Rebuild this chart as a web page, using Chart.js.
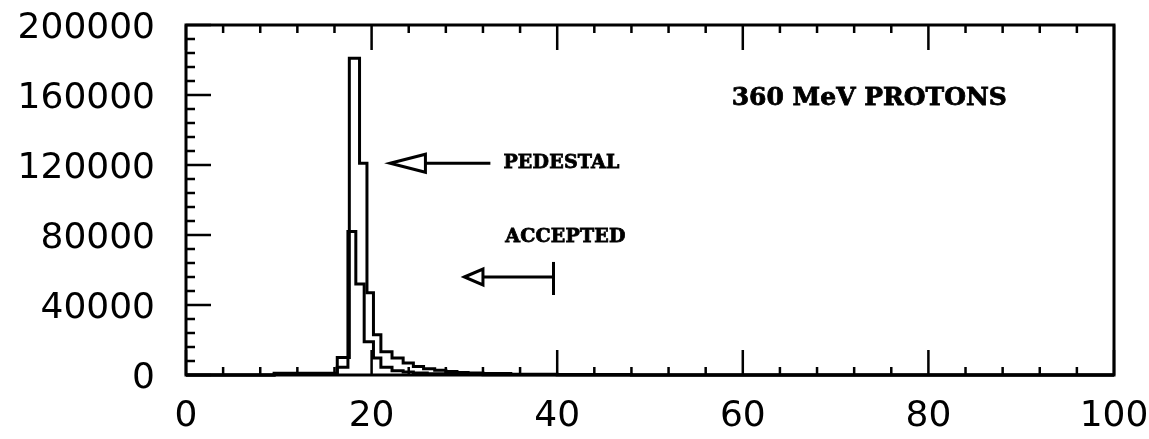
<!DOCTYPE html>
<html>
<head>
<meta charset="utf-8">
<script src="https://cdn.jsdelivr.net/npm/chart.js@4.4.1/dist/chart.umd.min.js"></script>
<style>
  html, body { margin: 0; padding: 0; background: #fff; }
  #wrap { width: 1149px; height: 439px; position: relative; }
</style>
</head>
<body>
<div id="wrap"><canvas id="spectrum"></canvas></div>
<script>
// channel edges and counts, all events
const allEdges  = [9.5, 16.3, 17.6, 18.7, 19.5, 20.2, 21.0, 22.2, 23.4, 24.5, 25.6, 26.8, 28.0, 29.2, 30.4, 32.0, 35.0, 40.0, 48.0];
const allCounts = [1000, 10000, 181000, 121000, 47000, 23000, 13300, 9700, 6800, 4800, 3600, 2700, 2000, 1500, 1100, 800, 500, 300];

// channel edges and counts, selected events
const selEdges  = [9.5, 16.3, 17.45, 18.3, 19.2, 20.2, 21.0, 22.2, 23.4, 24.5, 26.0, 28.0, 32.0, 40.0];
const selCounts = [500, 4500, 82000, 52000, 19000, 9700, 4500, 2500, 1700, 1100, 700, 400, 200];

const xTickLabels = [0, 20, 40, 60, 80, 100];
const yTickLabels = [0, 40000, 80000, 120000, 160000, 200000];

// count i covers edges[i]..edges[i+1] (stepped: 'before')
function histPoints(edges, counts) {
    const pts = [{x: 0, y: 0}];
    for (let i = 0; i < counts.length; i++) {
        pts.push({x: edges[i], y: counts[i]});
    }
    pts.push({x: edges[edges.length - 1], y: 0});
    pts.push({x: 100, y: 0});
    return pts;
}

// frame, inward tick marks and the hand-drawn notes
const framePlugin = {
    id: 'frame',
    afterDatasetsDraw(chart) {
        const ctx = chart.ctx;
        const a = chart.chartArea;
        const xs = chart.scales.x;
        const ys = chart.scales.y;
        ctx.save();
        ctx.strokeStyle = '#000';
        ctx.lineWidth = 3;
        ctx.strokeRect(a.left, a.top, a.right - a.left, a.bottom - a.top);

        ctx.lineWidth = 2.5;
        ctx.beginPath();
        for (let v = 0; v <= 100; v += 4) {
            const px = xs.getPixelForValue(v);
            const len = v % 20 === 0 ? 25 : 8;
            ctx.moveTo(px, a.bottom); ctx.lineTo(px, a.bottom - len);
            ctx.moveTo(px, a.top); ctx.lineTo(px, a.top + len);
        }
        for (let v = 0; v <= 200000; v += 8000) {
            const py = ys.getPixelForValue(v);
            const len = v % 40000 === 0 ? 25 : 9;
            ctx.moveTo(a.left, py); ctx.lineTo(a.left + len, py);
        }
        ctx.stroke();

        // arrows
        const arrow = (tipX, baseX, endX, yv, half) => {
            const y = ys.getPixelForValue(yv);
            const tx = xs.getPixelForValue(tipX);
            const bx = xs.getPixelForValue(baseX);
            ctx.beginPath();
            ctx.moveTo(tx, y);
            ctx.lineTo(bx, y - half);
            ctx.lineTo(bx, y + half);
            ctx.closePath();
            ctx.fillStyle = '#fff';
            ctx.fill();
            ctx.lineWidth = 3;
            ctx.stroke();
            ctx.beginPath();
            ctx.moveTo(bx, y);
            ctx.lineTo(xs.getPixelForValue(endX), y);
            ctx.stroke();
        };
        arrow(22, 25.8, 32.8, 121000, 9);
        arrow(30, 32, 39.6, 56000, 8);
        const barX = xs.getPixelForValue(39.6);
        ctx.beginPath();
        ctx.moveTo(barX, ys.getPixelForValue(64600));
        ctx.lineTo(barX, ys.getPixelForValue(45700));
        ctx.stroke();

        const label = (text, xv, yv) => {
            const px = xs.getPixelForValue(xv), py = ys.getPixelForValue(yv);
            ctx.fillText(text, px, py);
            ctx.strokeText(text, px, py);
        };
        ctx.fillStyle = '#000';
        ctx.lineWidth = 0.8;
        ctx.textBaseline = 'middle';
        ctx.textAlign = 'left';
        ctx.font = 'bold 19px "DejaVu Serif"';
        ctx.letterSpacing = '0.2px';
        label('PEDESTAL', 34.2, 121000);
        label('ACCEPTED', 34.4, 78900);
        ctx.font = 'bold 25px "DejaVu Serif"';
        ctx.letterSpacing = '0px';
        label('360 MeV PROTONS', 58.8, 158000);
        ctx.restore();
    }
};

const tickFont = {family: '"DejaVu Sans"', size: 36};

new Chart(document.getElementById('spectrum'), {
    type: 'line',
    data: {
        datasets: [
            {
                label: 'all',
                data: histPoints(allEdges, allCounts),
                stepped: 'before',
                borderColor: '#000',
                borderWidth: 3,
                pointRadius: 0,
                fill: false,
                clip: false
            },
            {
                label: 'selected',
                data: histPoints(selEdges, selCounts),
                stepped: 'before',
                borderColor: '#000',
                borderWidth: 3,
                pointRadius: 0,
                fill: false,
                clip: false
            }
        ]
    },
    options: {
        responsive: true,
        maintainAspectRatio: false,
        animation: false,
        layout: {padding: {left: 0, top: 25, right: 35, bottom: 0}},
        plugins: {legend: {display: false}, tooltip: {enabled: false}},
        scales: {
            x: {
                type: 'linear',
                min: 0,
                max: 100,
                grid: {display: false, drawTicks: false},
                border: {display: false},
                afterBuildTicks: s => { s.ticks = xTickLabels.map(v => ({value: v})); },
                afterFit: s => { s.height = 64; s.paddingLeft = 0; s.paddingRight = 0; },
                ticks: {color: '#000', font: tickFont, padding: 20, maxRotation: 0}
            },
            y: {
                type: 'linear',
                min: 0,
                max: 200000,
                grid: {display: false, drawTicks: false},
                border: {display: false},
                afterBuildTicks: s => { s.ticks = yTickLabels.map(v => ({value: v})); },
                afterFit: s => { s.width = 186; s.paddingTop = 0; s.paddingBottom = 0; },
                ticks: {color: '#000', font: tickFont, padding: 31, labelOffset: 4, callback: v => String(v)}
            }
        }
    },
    plugins: [framePlugin]
});
</script>
</body>
</html>
